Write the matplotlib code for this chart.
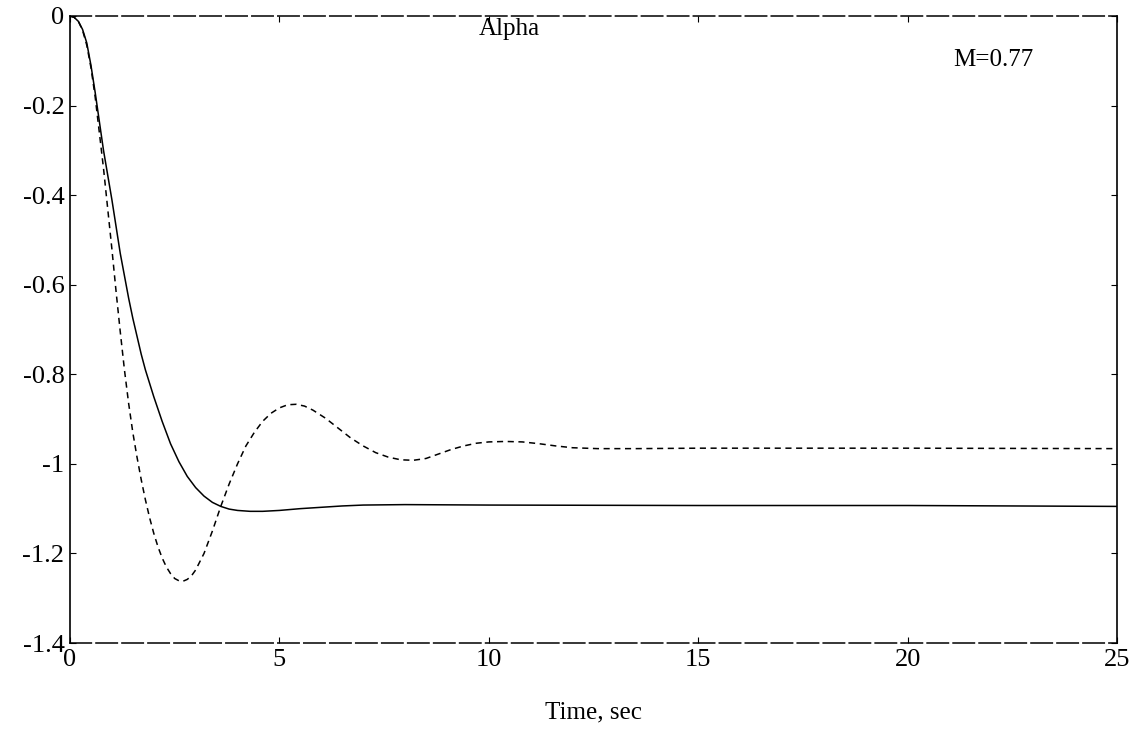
import numpy as np
import matplotlib
matplotlib.use('Agg')
import matplotlib.pyplot as plt

plt.rcParams['font.family'] = ['Liberation Serif', 'DejaVu Serif']

# solid response
t_solid = [0, 0.1, 0.2, 0.3, 0.4, 0.5, 0.6, 0.7, 0.8, 0.9, 1.0, 1.1, 1.2, 1.3, 1.4, 1.5,
           1.6, 1.7, 1.8, 1.9, 2.0, 2.2, 2.4, 2.6, 2.8, 3.0, 3.2, 3.4, 3.6, 3.8, 4.0,
           4.3, 4.6, 5.0, 5.5, 6.0, 6.5, 7.0, 8.0, 10.0, 15.0, 20.0, 25.0]
alpha_solid = [0, -0.003, -0.012, -0.03, -0.06, -0.11, -0.17, -0.235, -0.30, -0.355,
               -0.41, -0.47, -0.53, -0.58, -0.63, -0.675, -0.715, -0.755, -0.79, -0.82,
               -0.85, -0.905, -0.955, -0.995, -1.028, -1.053, -1.072, -1.086, -1.095,
               -1.101, -1.104, -1.106, -1.106, -1.104, -1.100, -1.097, -1.094, -1.092,
               -1.091, -1.092, -1.093, -1.093, -1.095]

# dashed response
t_dash = [0, 0.1, 0.2, 0.3, 0.4, 0.5, 0.6, 0.7, 0.8, 0.9, 1.0, 1.1, 1.2, 1.3, 1.4, 1.5,
          1.6, 1.7, 1.8, 1.9, 2.0, 2.1, 2.2, 2.3, 2.4, 2.5, 2.6, 2.7, 2.8, 2.9, 3.0,
          3.2, 3.4, 3.6, 3.8, 4.0, 4.2, 4.4, 4.6, 4.8, 5.0, 5.2, 5.4, 5.6, 5.8, 6.1,
          6.4, 6.7, 7.0, 7.3, 7.6, 7.9, 8.2, 8.5, 8.8, 9.1, 9.4, 9.7, 10.0, 10.4, 10.8,
          11.2, 11.6, 12.0, 12.6, 13.5, 15.0, 20.0, 25.0]
alpha_dash = [0, -0.003, -0.012, -0.032, -0.065, -0.115, -0.18, -0.26, -0.34, -0.43,
              -0.52, -0.615, -0.705, -0.79, -0.865, -0.93, -0.985, -1.035, -1.08, -1.12,
              -1.155, -1.185, -1.21, -1.23, -1.245, -1.256, -1.261, -1.262, -1.258,
              -1.25, -1.237, -1.20, -1.15, -1.095, -1.045, -1.00, -0.96, -0.93, -0.905,
              -0.887, -0.875, -0.868, -0.867, -0.871, -0.88, -0.898, -0.92, -0.942,
              -0.96, -0.975, -0.985, -0.991, -0.992, -0.988, -0.978, -0.968, -0.96,
              -0.954, -0.951, -0.950, -0.951, -0.955, -0.96, -0.964, -0.966, -0.966,
              -0.965, -0.965, -0.966]

x_ticks = [0, 5, 10, 15, 20, 25]
y_ticks = [0, -0.2, -0.4, -0.6, -0.8, -1, -1.2, -1.4]
y_labels = ['0', '-0.2', '-0.4', '-0.6', '-0.8', '-1', '-1.2', '-1.4']

fig = plt.figure(figsize=(11.39, 7.42), dpi=100)
ax = fig.add_axes([70/1139, 1 - 643/742, (1117-70)/1139, (643-16)/742])

ax.plot(t_solid, alpha_solid, color='black', linewidth=1.1)
ax.plot(t_dash, alpha_dash, color='black', linewidth=1.1, dashes=(4, 3))

ax.set_xlim(0, 25)
ax.set_ylim(-1.4, 0)
ax.set_xticks(x_ticks)
ax.set_yticks(y_ticks)
ax.set_yticklabels(y_labels)
ax.tick_params(direction='in', length=4, width=0.8, top=True, right=True,
               labelsize=19, pad=4)

for side in ['left', 'right']:
    ax.spines[side].set_linewidth(1.2)
for side in ['top', 'bottom']:
    ax.spines[side].set_linewidth(1.1)
    ax.spines[side].set_linestyle((0, (14, 3)))

ax.text(0.42, 0.997, 'Alpha', transform=ax.transAxes, ha='center', va='top', fontsize=18)
ax.text(21.1, -0.098, 'M=0.77', ha='left', va='center', fontsize=18)

ax.set_xlabel('Time, sec', fontsize=18, labelpad=22)

fig.savefig('out.png', dpi=100)
